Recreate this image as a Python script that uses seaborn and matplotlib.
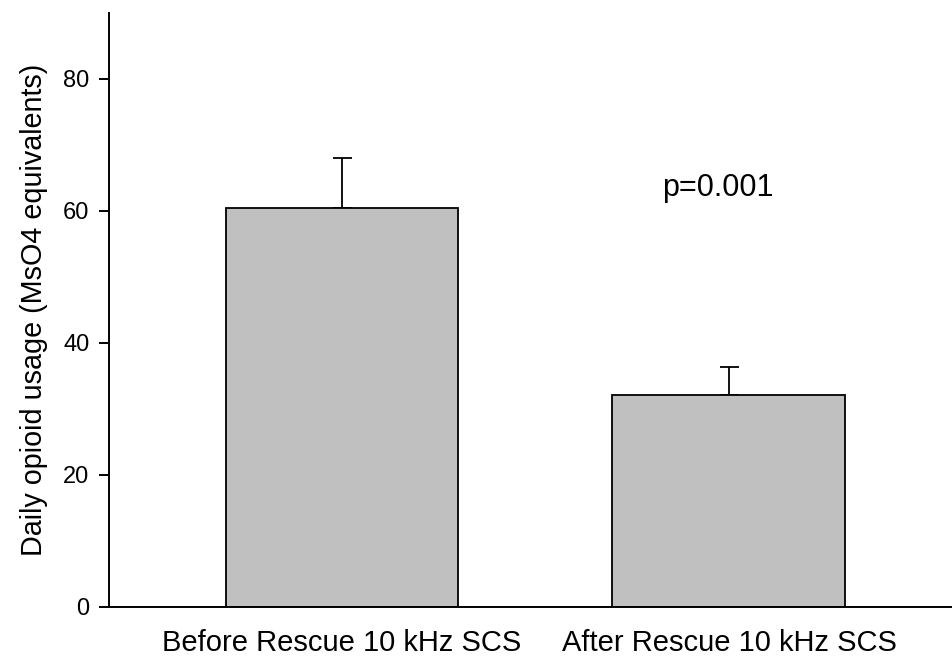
import matplotlib
matplotlib.use("Agg")
import matplotlib.pyplot as plt
import seaborn as sns
import pandas as pd

# values
categories = ["Before Rescue 10 kHz SCS", "After Rescue 10 kHz SCS"]
means = [60.4, 32.1]
errors = [7.6, 4.3]
p_text = "p=0.001"

sns.set_style("ticks")
plt.rcParams['font.family'] = ['Liberation Sans', 'DejaVu Sans']
plt.rcParams['text.color'] = 'black'
plt.rcParams['axes.labelcolor'] = 'black'
plt.rcParams['xtick.color'] = 'black'
plt.rcParams['ytick.color'] = 'black'
plt.rcParams['axes.edgecolor'] = 'black'

df = pd.DataFrame({"group": categories, "usage": means})

fig = plt.figure(figsize=(9.53, 6.56), dpi=100)
ax = fig.add_axes([0.1144, 0.0747, 0.8856, 0.906])

sns.barplot(data=df, x="group", y="usage", color="#c0c0c0", edgecolor="black",
            linewidth=1.3, width=0.602, errorbar=None, saturation=1, ax=ax)

# one-sided (upper) error bars
ax.errorbar(range(len(means)), means, yerr=[[0] * len(errors), errors], fmt="none",
            ecolor="black", elinewidth=1.3, capsize=9.5 * 72 / 100, capthick=1.3, zorder=0)

ax.text(0.972, 63.4, p_text, ha="center", va="center", fontsize=22)

ax.set_xlim(-0.602, 1.579)
ax.set_ylim(0, 90)
ax.set_yticks([0, 20, 40, 60, 80])
ax.set_xlabel("")
ax.set_ylabel("Daily opioid usage (MsO4 equivalents)", fontsize=20.7, labelpad=11)
ax.tick_params(axis="y", labelsize=17, width=1.4, length=7, pad=7, direction="out")
ax.tick_params(axis="x", labelsize=21, length=0, pad=16)
for s in ["left", "bottom"]:
    ax.spines[s].set_linewidth(1.4)
sns.despine(ax=ax)

fig.savefig("out.png", dpi=100)
